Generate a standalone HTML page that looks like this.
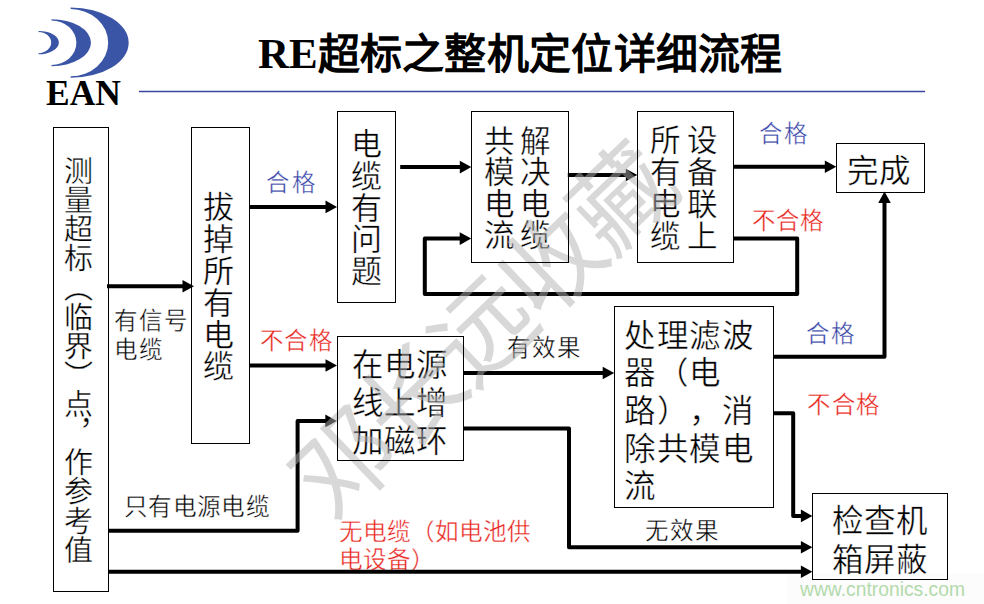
<!DOCTYPE html>
<html lang="zh-CN">
<head>
<meta charset="utf-8">
<style>
html,body{margin:0;padding:0;background:#fff;}
body{width:984px;height:604px;position:relative;overflow:hidden;font-family:"Liberation Serif",serif;color:#000;text-spacing-trim:space-all;}
.t{position:absolute;white-space:nowrap;line-height:1;}
.s{-webkit-text-stroke:0.4px #fff;}
.v{position:absolute;writing-mode:vertical-rl;line-height:1;white-space:nowrap;}
.blue{color:#3644a6;}
.red{color:#e8221a;}
svg{position:absolute;left:0;top:0;}
</style>
</head>
<body>
<div style="position:absolute;left:786px;top:574px;width:198px;height:30px;background:#fcfcfc;"></div>
<svg width="984" height="604" viewBox="0 0 984 604">
  <g fill="#3a54a6">
    <path d="M38.5,30.9 A20.4,11.70 0 0 1 38.5,54.3 L38.5,53.199999999999996 A12.7,10.60 0 0 0 38.5,32.0 Z"/>
    <path d="M51.5,19.2 A39.5,23.50 0 0 1 51.5,66.2 L51.5,64.9 A24.9,22.20 0 0 0 51.5,20.5 Z"/>
    <path d="M70.7,7.6 A58.0,35.10 0 0 1 70.7,77.8 L70.7,76.3 A37.5,33.60 0 0 0 70.7,9.1 Z"/>
  </g>
  <line x1="139" y1="91.5" x2="925" y2="91.5" stroke="#3c44a2" stroke-width="1.4"/>
</svg>
<div class="t" style="left:46px;top:76px;font-size:35.5px;font-weight:bold;">EAN</div>
<div class="t" style="left:258px;top:32px;font-size:43px;font-weight:bold;">RE</div>
<div class="t" style="left:317.5px;top:34px;font-size:42px;letter-spacing:0.3px;font-weight:bold;">超标之整机定位详细流程</div>
<div class="t" style="left:800px;top:580.3px;font-family:'Liberation Sans',sans-serif;font-size:19.3px;color:#b3daab;">www.cntronics.com</div>

<div class="s">

<div class="v" style="left:61px;top:156px;font-size:29px;letter-spacing:0.13px;">测量超标（临界）点，作参考值</div>
<div class="v" style="left:200px;top:191px;font-size:31px;letter-spacing:0.9px;">拔掉所有电缆</div>
<div class="v" style="left:348px;top:128.4px;font-size:31px;letter-spacing:0.8px;">电缆有问题</div>
<div class="v" style="left:476.8px;top:124.5px;font-size:30.5px;line-height:36.8px;letter-spacing:0.37px;">解决电缆<br>共模电流</div>
<div class="v" style="left:642.2px;top:123.5px;font-size:30.5px;line-height:37.4px;letter-spacing:0.9px;">设备联上<br>所有电缆</div>
<div class="t" style="left:847px;top:156px;font-size:31.5px;">完成</div>
<div class="t" style="left:352px;top:347px;font-size:31.5px;line-height:38px;white-space:normal;width:100px;">在电源线上增加磁环</div>
<div class="t" style="left:624px;top:317.6px;font-size:31.5px;line-height:37.7px;letter-spacing:0.6px;white-space:normal;width:134px;">处理滤波器（电路），消除共模电流</div>
<div class="t" style="left:832px;top:503px;font-size:31.5px;line-height:38.6px;white-space:normal;width:100px;">检查机箱屏蔽</div>

<div class="t" style="left:113.9px;top:307px;font-size:23.5px;line-height:29.2px;letter-spacing:2.05px;">有信号<br>电缆</div>
<div class="t blue" style="left:266.2px;top:172px;font-size:23.5px;letter-spacing:3.1px;">合格</div>
<div class="t blue" style="left:758.5px;top:123.2px;font-size:23.5px;letter-spacing:2.2px;">合格</div>
<div class="t red" style="left:752.2px;top:210.3px;font-size:23.5px;letter-spacing:1.1px;">不合格</div>
<div class="t red" style="left:260px;top:330px;font-size:23.5px;letter-spacing:1.3px;">不合格</div>
<div class="t" style="left:507px;top:337.4px;font-size:23.5px;letter-spacing:1.9px;">有效果</div>
<div class="t" style="left:124.2px;top:496.3px;font-size:23.6px;letter-spacing:0.28px;">只有电源电缆</div>
<div class="t red" style="left:339px;top:518px;font-size:23.6px;line-height:28.2px;">无电缆（如电池供<br>电设备）</div>
<div class="t" style="left:645.4px;top:520.2px;font-size:23.5px;letter-spacing:2px;">无效果</div>
<div class="t blue" style="left:806.2px;top:323.2px;font-size:23.5px;letter-spacing:2.3px;">合格</div>
<div class="t red" style="left:806.8px;top:393.5px;font-size:23.5px;letter-spacing:1.75px;">不合格</div>

</div>
<svg width="984" height="604" viewBox="0 0 984 604">
  <g stroke="#000" stroke-width="4.0" fill="none" stroke-linejoin="round">
<path d="M107.00,286.20 L183.50,286.20"/>
<path d="M249.50,206.90 L326.50,206.90"/>
<path d="M400.20,167.10 L460.80,167.10"/>
<path d="M567.80,175.00 L626.80,175.00"/>
<path d="M733.50,166.80 L825.80,166.80"/>
<path d="M733.50,238.60 L797.20,238.60 L797.20,293.90 L424.80,293.90 L424.80,238.60 L460.70,238.60"/>
<path d="M249.50,365.50 L326.50,365.50"/>
<path d="M108.50,530.80 L297.60,530.80 L297.60,420.90 L326.30,420.90"/>
<path d="M463.50,373.00 L603.70,373.00"/>
<path d="M463.50,428.60 L569.00,428.60 L569.00,547.30 L801.90,547.30"/>
<path d="M773.50,356.70 L884.50,356.70 L884.50,202.00"/>
<path d="M773.50,413.20 L793.20,413.20 L793.20,515.90 L801.90,515.90"/>
<path d="M108.50,571.70 L801.90,571.70"/>
  </g>
  <g fill="#000">
<path d="M194.00,286.20 L182.50,292.50 L182.50,279.90 Z"/>
<path d="M337.00,206.90 L325.50,213.20 L325.50,200.60 Z"/>
<path d="M471.30,167.10 L459.80,173.40 L459.80,160.80 Z"/>
<path d="M637.30,175.00 L625.80,181.30 L625.80,168.70 Z"/>
<path d="M836.30,166.80 L824.80,173.10 L824.80,160.50 Z"/>
<path d="M471.20,238.60 L459.70,244.90 L459.70,232.30 Z"/>
<path d="M337.00,365.50 L325.50,371.80 L325.50,359.20 Z"/>
<path d="M336.80,420.90 L325.30,427.20 L325.30,414.60 Z"/>
<path d="M614.20,373.00 L602.70,379.30 L602.70,366.70 Z"/>
<path d="M812.40,547.30 L800.90,553.60 L800.90,541.00 Z"/>
<path d="M884.50,191.50 L890.80,203.00 L878.20,203.00 Z"/>
<path d="M812.40,515.90 L800.90,522.20 L800.90,509.60 Z"/>
<path d="M812.40,571.70 L800.90,578.00 L800.90,565.40 Z"/>
  </g>
</svg>
<div class="t" style="left:234px;top:281px;width:500px;height:100px;line-height:100px;text-align:center;font-family:'Liberation Sans',sans-serif;font-weight:normal;font-size:100px;letter-spacing:-4px;text-indent:-4px;color:rgba(177,177,177,0.5);transform:rotate(-43.8deg);">邓长远收藏</div>

<svg width="984" height="604" viewBox="0 0 984 604">
  <g stroke="#000" stroke-width="1" fill="none">
<rect x="53.5" y="127.5" width="55" height="464"/>
<rect x="191.5" y="127.5" width="58" height="316"/>
<rect x="337.5" y="111.5" width="58" height="191"/>
<rect x="471.5" y="111.5" width="97" height="151"/>
<rect x="637.5" y="111.5" width="96" height="151"/>
<rect x="836.5" y="143.5" width="88" height="49"/>
<rect x="337.5" y="336.5" width="126" height="124"/>
<rect x="614.5" y="306.5" width="159" height="201"/>
<rect x="812.5" y="493.5" width="135" height="86"/>
  </g>
</svg>
</body>
</html>
